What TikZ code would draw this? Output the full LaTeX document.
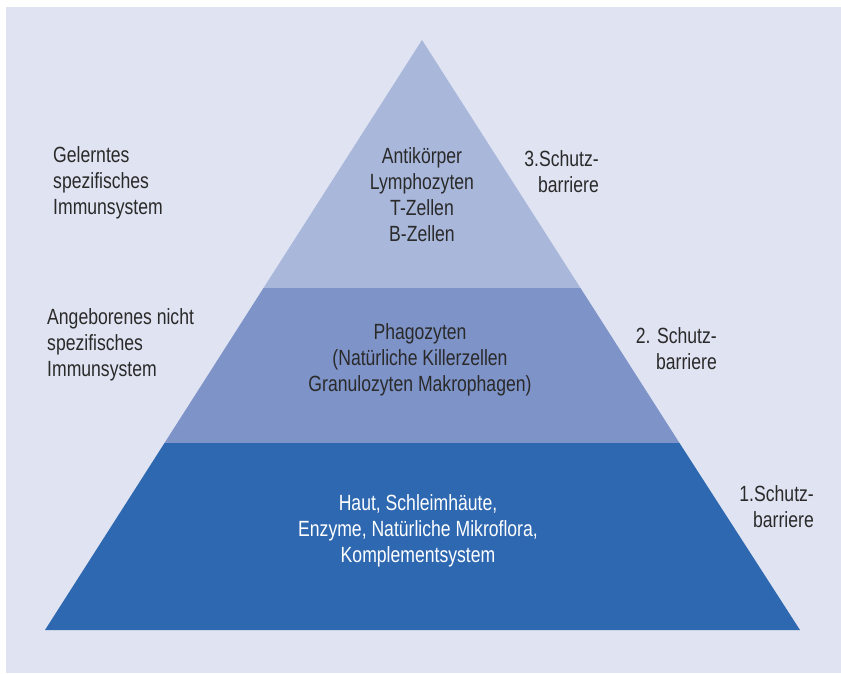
\documentclass[tikz,border=0pt]{standalone}
\usepackage{fontspec}
\setmainfont{Liberation Sans}[FakeStretch=0.8]
\definecolor{bg}{HTML}{E0E4F2}
\definecolor{ctop}{HTML}{A9B7DB}
\definecolor{cmid}{HTML}{7E93C8}
\definecolor{cbot}{HTML}{2E68B0}
\definecolor{txt}{HTML}{2A2A2A}
\tikzset{
  lbl/.style={inner sep=0pt, text=txt, font=\fontsize{22}{26}\selectfont},
  ctr/.style={lbl, align=center},
  lft/.style={lbl, align=left, anchor=west},
  rgt/.style={lbl, align=right, anchor=east}
}
\begin{document}
\begin{tikzpicture}[x=1pt,y=-1pt]
\useasboundingbox (0,0) rectangle (841,673);
\fill[white] (0,0) rectangle (841,673);
\fill[bg] (6,7) rectangle (841,673);
% pyramid coordinates
\coordinate (apex) at (422,40);
\coordinate (tl) at (263.5,288);
\coordinate (tr) at (580.5,288);
\coordinate (ml) at (164.5,443);
\coordinate (mr) at (679.5,443);
\coordinate (bl) at (45,630);
\coordinate (br) at (800,630);
\fill[ctop] (apex) -- (tr) -- (tl) -- cycle;
\fill[cmid] (tl) -- (tr) -- (mr) -- (ml) -- cycle;
\fill[cbot] (ml) -- (mr) -- (br) -- (bl) -- cycle;
% texts
\node[ctr] (t1) at (422,195) {Antikörper\\Lymphozyten\\T-Zellen\\B-Zellen};
\node[ctr] (t2) at (420,360) {Phagozyten\\(Natürliche Killerzellen\\Granulozyten Makrophagen)};
\node[ctr, text=white] (t3) at (418,531) {Haut, Schleimhäute,\\Enzyme, Natürliche Mikroflora,\\Komplementsystem};
\node[lft] (l1) at (53,183) {Gelerntes\\spezifisches\\Immunsystem};
\node[lft] (l2) at (47,345) {Angeborenes nicht\\spezifisches\\Immunsystem};
\node[rgt] (r3) at (599,172) {3.Schutz-\\barriere};
\node[rgt] (r2) at (717,349) {2. Schutz-\\barriere};
\node[rgt] (r1) at (814,507) {1.Schutz-\\barriere};
\end{tikzpicture}
\end{document}
